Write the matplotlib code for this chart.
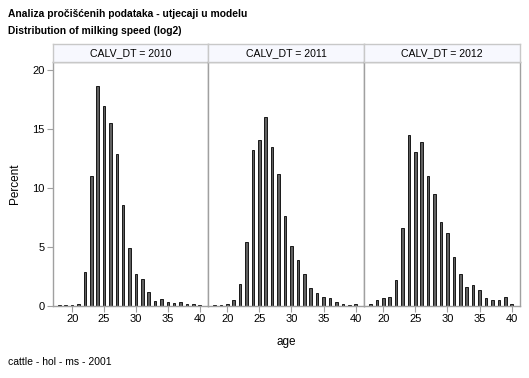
import matplotlib
matplotlib.use("Agg")
import matplotlib.pyplot as plt
import numpy as np

plt.rcParams['font.family'] = ['Liberation Sans', 'DejaVu Sans']

ages = list(range(18, 41))
years = ["2010", "2011", "2012"]
pct_2010 = [0.05, 0.05, 0.1, 0.15, 2.9, 11.0, 18.7, 17.0, 15.5, 12.9, 8.6, 4.9,
            2.7, 2.26, 1.19, 0.4, 0.56, 0.37, 0.23, 0.34, 0.17, 0.17, 0.06]
pct_2011 = [0.08, 0.08, 0.2, 0.5, 1.86, 5.4, 13.2, 14.1, 16.0, 13.5, 11.2, 7.65,
            5.1, 3.9, 2.7, 1.55, 1.13, 0.73, 0.68, 0.37, 0.14, 0.08, 0.17]
pct_2012 = [0.2, 0.48, 0.65, 0.73, 2.2, 6.64, 14.5, 13.1, 13.9, 11.0, 9.5, 7.15,
            6.16, 4.18, 2.68, 1.64, 1.78, 1.33, 0.65, 0.5, 0.48, 0.76, 0.2]
series = [pct_2010, pct_2011, pct_2012]
xticks = [20, 25, 30, 35, 40]
yticks = [0, 5, 10, 15, 20]

W, H = 529, 378
fig = plt.figure(figsize=(W / 100, H / 100), dpi=100)

lefts = [53, 208, 364]
rights = [208, 364, 520]
top_plot, bottom_plot, top_head = 62, 306, 44
frame_col = '#a0a0a0'

for i, (yr, vals) in enumerate(zip(years, series)):
    l, r = lefts[i], rights[i]
    ax = fig.add_axes([l / W, 1 - bottom_plot / H, (r - l) / W, (bottom_plot - top_plot) / H])
    ax.bar(ages, vals, width=0.4, facecolor='#606060', edgecolor='black', linewidth=0.6)
    ax.set_xlim(17.0, 41.3)
    ax.set_ylim(0, 20.7)
    ax.set_xticks(xticks)
    ax.set_xticklabels([str(t) for t in xticks])
    ax.tick_params(axis='x', length=4, color=frame_col, labelsize=8, pad=2)
    if i == 0:
        ax.set_yticks(yticks)
        ax.tick_params(axis='y', length=4, color=frame_col, labelsize=8, pad=2)
    else:
        ax.set_yticks([])
    for s in ax.spines.values():
        s.set_color(frame_col)
        s.set_linewidth(1.0)
    # header strip
    hx = fig.add_axes([l / W, 1 - top_plot / H, (r - l) / W, (top_plot - top_head) / H])
    hx.set_facecolor('#f7f8fe')
    hx.set_xticks([]); hx.set_yticks([])
    for s in hx.spines.values():
        s.set_color('#c8c8c8')
        s.set_linewidth(1.0)
    hx.text(0.5, 0.5, f"CALV_DT = {yr}", ha='center', va='center', fontsize=7.6,
            transform=hx.transAxes)

fig.text(8 / W, 1 - 14 / H, "Analiza pročišćenih podataka - utjecaji u modelu",
         fontsize=7.4, fontweight='bold', va='center', ha='left')
fig.text(8 / W, 1 - 31 / H, "Distribution of milking speed (log2)",
         fontsize=7.4, fontweight='bold', va='center', ha='left')
fig.text(286 / W, 1 - 342 / H, "age", fontsize=8.5, ha='center', va='center')
fig.text(15 / W, 1 - 184 / H, "Percent", fontsize=8.5, ha='center', va='center', rotation=90)
fig.text(8 / W, 1 - 362 / H, "cattle - hol - ms - 2001", fontsize=7.5, ha='left', va='center')

fig.savefig("out.png", dpi=100)
